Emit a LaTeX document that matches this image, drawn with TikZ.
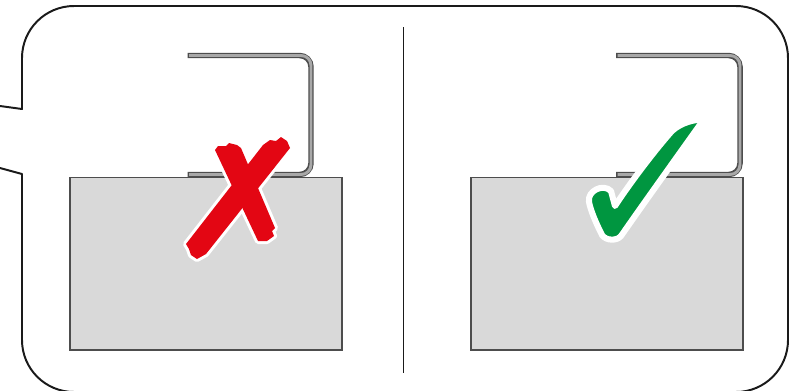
\documentclass[tikz,border=0pt]{standalone}
\definecolor{framegray}{HTML}{1A1A1A}
\definecolor{boardgray}{HTML}{D9D9D9}
\definecolor{clipdark}{HTML}{4D4D4D}
\definecolor{cliplight}{HTML}{A8A8A8}
\definecolor{wrongred}{HTML}{E30613}
\definecolor{rightgreen}{HTML}{009640}
\usepackage{tikz}

\begin{document}
\begin{tikzpicture}[
  x=0.025cm, y=-0.025cm,
  frame/.style={draw=framegray, line width=1.4pt, line join=round},
  divider/.style={draw=framegray, line width=1.3pt},
  board/.style={fill=boardgray, draw=clipdark, line width=0.9pt},
  clipout/.style={draw=clipdark, line width=3.9pt, rounded corners=8pt},
  clipin/.style={draw=cliplight, line width=2.1pt, rounded corners=7pt},
  halo/.style={draw=white, line width=4.3pt, line join=round}
]
  \useasboundingbox (0,0) rectangle (802,390);

  \draw[frame] (0,106) -- (22,109) -- (22,58) arc (180:270:52) -- (736,6)
    arc (270:360:52) -- (788,340) arc (0:90:52) -- (74,392)
    arc (90:180:52) -- (22,174) -- (0,168);
  \draw[divider] (403.5,27) -- (403.5,373);

  \draw[board] (70,177.5) rectangle (342,350);
  \draw[board] (471,177.5) rectangle (743,350);

  \draw[clipout] (187.5,55.5) -- (311,55.5) -- (311,174.5) -- (187.5,174.5);
  \draw[clipin] (189,55.5) -- (311,55.5) -- (311,174.5) -- (189,174.5);
  \draw[clipout] (616,55.5) -- (740,55.5) -- (740,174.5) -- (616,174.5);
  \draw[clipin] (617.5,55.5) -- (740,55.5) -- (740,174.5) -- (617.5,174.5);

  \path[halo] (215,150) -- (218,146) -- (226,146) -- (229,143) -- (237,145)
    -- (241,148) -- (275,228) -- (272,231) -- (274,236) -- (267,241)
    -- (258,241) -- cycle;
  \path[halo] (263,145) -- (270,140) -- (276,141) -- (281,137) -- (287,141)
    -- (290,148) -- (206,254) -- (197,259) -- (191,255) -- (189,249)
    -- (186,244) -- cycle;
  \fill[wrongred] (215,150) -- (218,146) -- (226,146) -- (229,143) -- (237,145)
    -- (241,148) -- (275,228) -- (272,231) -- (274,236) -- (267,241)
    -- (258,241) -- cycle;
  \fill[wrongred] (263,145) -- (270,140) -- (276,141) -- (281,137) -- (287,141)
    -- (290,148) -- (206,254) -- (197,259) -- (191,255) -- (189,249)
    -- (186,244) -- cycle;

  \filldraw[fill=rightgreen, halo] (615,206) .. controls (630,183) and (655,150) .. (672,131)
    .. controls (682,122) and (694,120) .. (704,119)
    .. controls (682,150) and (646,200) .. (621,236)
    .. controls (617,241) and (606,241) .. (602,235)
    .. controls (597,225) and (591,212) .. (589,202)
    .. controls (587,191) and (603,183) .. (611,191) -- cycle;
\end{tikzpicture}
\end{document}
